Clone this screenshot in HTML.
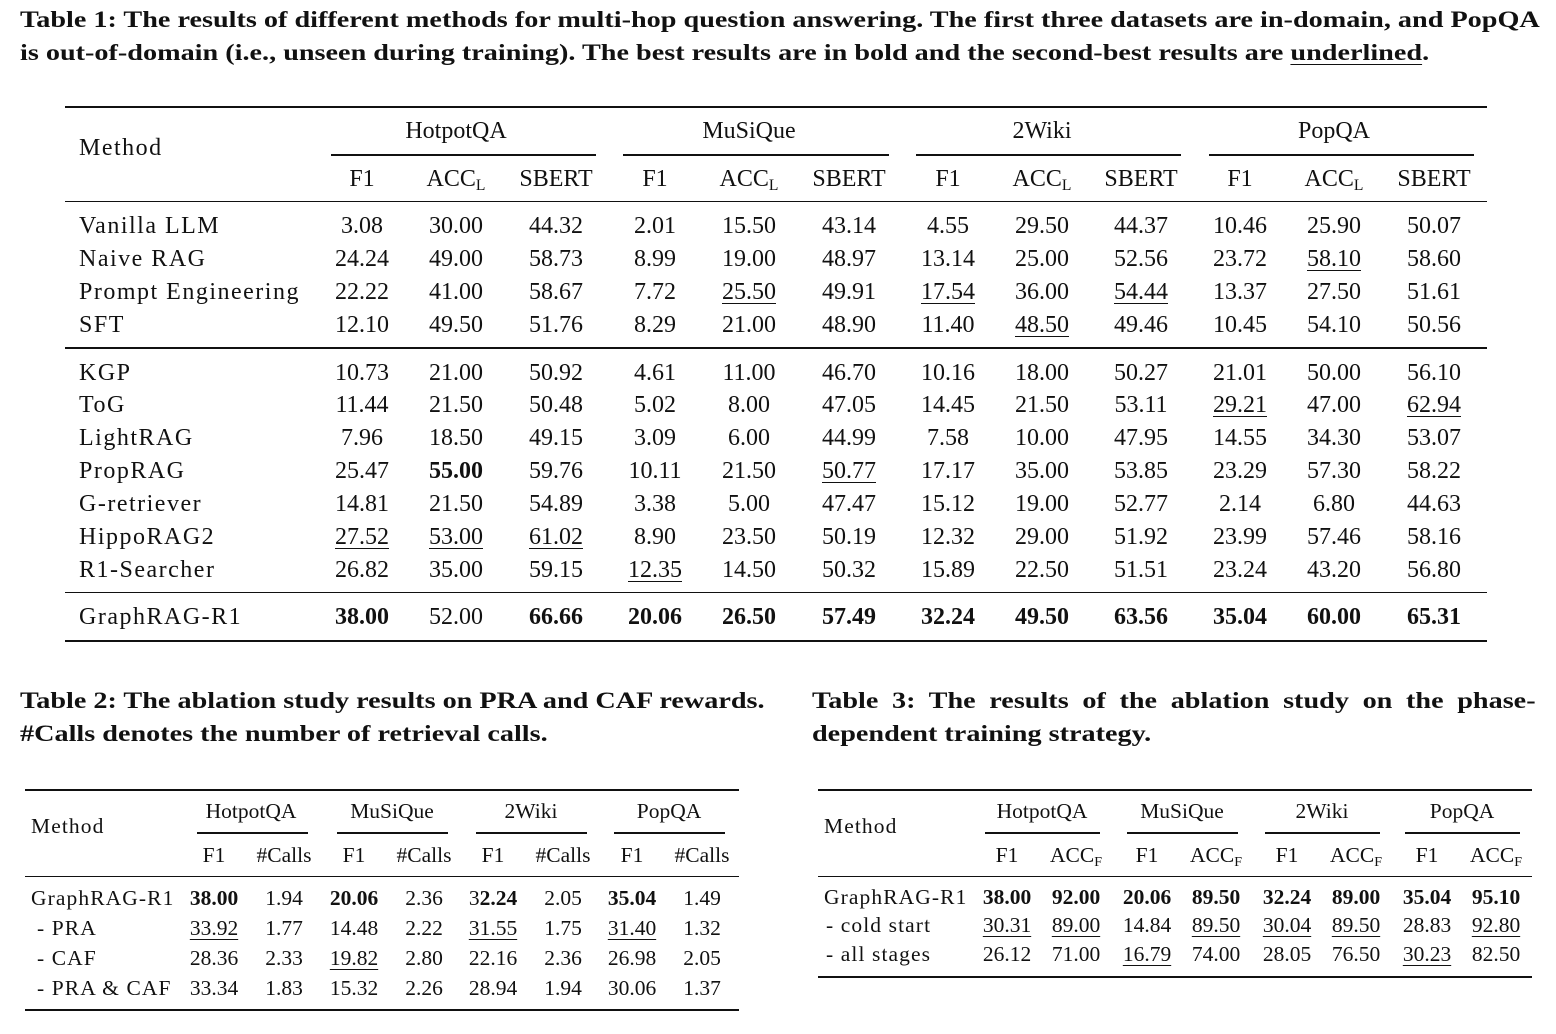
<!DOCTYPE html>
<html><head><meta charset="utf-8"><style>
body{margin:0;width:1556px;height:1034px;background:#fff;position:relative;font-family:"Liberation Serif",serif;color:#111;overflow:hidden}
.cap{position:absolute;font-weight:bold;font-size:23.5px;line-height:33px;white-space:nowrap;transform:scaleX(1.2);transform-origin:0 0}
.r{position:absolute;background:#111}
.row{position:absolute;left:0;width:1556px;height:28px;line-height:28px}
.row span{position:absolute;transform:translateX(-50%)}
.row span.m{transform:none;letter-spacing:1.1px}
.t1{font-size:24px}
.t1 span.m{letter-spacing:1.5px}
.t2{font-size:21.5px}
u{text-underline-offset:4px;text-decoration-thickness:1px}
b{font-weight:bold}
.c1{left:362px}.c2{left:456px}.c3{left:556px}.c4{left:655px}.c5{left:749px}.c6{left:849px}.c7{left:948px}.c8{left:1042px}.c9{left:1141px}.c10{left:1240px}.c11{left:1334px}.c12{left:1434px}
.d1{left:214px}.d2{left:284px}.d3{left:354px}.d4{left:424px}.d5{left:493px}.d6{left:563px}.d7{left:632px}.d8{left:702px}
.e1{left:1007px}.e2{left:1076px}.e3{left:1147px}.e4{left:1216px}.e5{left:1287px}.e6{left:1356px}.e7{left:1427px}.e8{left:1496px}
sub{font-size:65%;vertical-align:-4px;line-height:0}
</style></head><body>
<div class="cap" style="left:20px;top:4px">Table 1: The results of different methods for multi-hop question answering. The first three datasets are in-domain, and PopQA</div>
<div class="cap" style="left:20px;top:37px">is out-of-domain (i.e., unseen during training). The best results are in bold and the second-best results are <u>underlined</u>.</div>

<div class="r" style="left:65px;top:106px;width:1422px;height:2px"></div>
<div class="row t1" style="top:134px"><span class="m" style="left:79px">Method</span></div>
<div class="row t1" style="top:117px"><span class="c2">HotpotQA</span><span class="c5">MuSiQue</span><span class="c8">2Wiki</span><span class="c11">PopQA</span></div>
<div class="r" style="left:331px;top:154px;width:265px;height:2px"></div>
<div class="r" style="left:623px;top:154px;width:266px;height:2px"></div>
<div class="r" style="left:916px;top:154px;width:265px;height:2px"></div>
<div class="r" style="left:1209px;top:154px;width:265px;height:2px"></div>
<div class="row t1" style="top:165px"><span class="c1">F1</span><span class="c2">ACC<sub>L</sub></span><span class="c3">SBERT</span><span class="c4">F1</span><span class="c5">ACC<sub>L</sub></span><span class="c6">SBERT</span><span class="c7">F1</span><span class="c8">ACC<sub>L</sub></span><span class="c9">SBERT</span><span class="c10">F1</span><span class="c11">ACC<sub>L</sub></span><span class="c12">SBERT</span></div>
<div class="r" style="left:65px;top:201px;width:1422px;height:1px"></div>

<div class="row t1" style="top:212px"><span class="m" style="left:79px">Vanilla LLM</span><span class="c1">3.08</span><span class="c2">30.00</span><span class="c3">44.32</span><span class="c4">2.01</span><span class="c5">15.50</span><span class="c6">43.14</span><span class="c7">4.55</span><span class="c8">29.50</span><span class="c9">44.37</span><span class="c10">10.46</span><span class="c11">25.90</span><span class="c12">50.07</span></div>
<div class="row t1" style="top:245px"><span class="m" style="left:79px">Naive RAG</span><span class="c1">24.24</span><span class="c2">49.00</span><span class="c3">58.73</span><span class="c4">8.99</span><span class="c5">19.00</span><span class="c6">48.97</span><span class="c7">13.14</span><span class="c8">25.00</span><span class="c9">52.56</span><span class="c10">23.72</span><span class="c11"><u>58.10</u></span><span class="c12">58.60</span></div>
<div class="row t1" style="top:278px"><span class="m" style="left:79px">Prompt Engineering</span><span class="c1">22.22</span><span class="c2">41.00</span><span class="c3">58.67</span><span class="c4">7.72</span><span class="c5"><u>25.50</u></span><span class="c6">49.91</span><span class="c7"><u>17.54</u></span><span class="c8">36.00</span><span class="c9"><u>54.44</u></span><span class="c10">13.37</span><span class="c11">27.50</span><span class="c12">51.61</span></div>
<div class="row t1" style="top:311px"><span class="m" style="left:79px">SFT</span><span class="c1">12.10</span><span class="c2">49.50</span><span class="c3">51.76</span><span class="c4">8.29</span><span class="c5">21.00</span><span class="c6">48.90</span><span class="c7">11.40</span><span class="c8"><u>48.50</u></span><span class="c9">49.46</span><span class="c10">10.45</span><span class="c11">54.10</span><span class="c12">50.56</span></div>
<div class="r" style="left:65px;top:347px;width:1422px;height:2px"></div>
<div class="row t1" style="top:359px"><span class="m" style="left:79px">KGP</span><span class="c1">10.73</span><span class="c2">21.00</span><span class="c3">50.92</span><span class="c4">4.61</span><span class="c5">11.00</span><span class="c6">46.70</span><span class="c7">10.16</span><span class="c8">18.00</span><span class="c9">50.27</span><span class="c10">21.01</span><span class="c11">50.00</span><span class="c12">56.10</span></div>
<div class="row t1" style="top:391px"><span class="m" style="left:79px">ToG</span><span class="c1">11.44</span><span class="c2">21.50</span><span class="c3">50.48</span><span class="c4">5.02</span><span class="c5">8.00</span><span class="c6">47.05</span><span class="c7">14.45</span><span class="c8">21.50</span><span class="c9">53.11</span><span class="c10"><u>29.21</u></span><span class="c11">47.00</span><span class="c12"><u>62.94</u></span></div>
<div class="row t1" style="top:424px"><span class="m" style="left:79px">LightRAG</span><span class="c1">7.96</span><span class="c2">18.50</span><span class="c3">49.15</span><span class="c4">3.09</span><span class="c5">6.00</span><span class="c6">44.99</span><span class="c7">7.58</span><span class="c8">10.00</span><span class="c9">47.95</span><span class="c10">14.55</span><span class="c11">34.30</span><span class="c12">53.07</span></div>
<div class="row t1" style="top:457px"><span class="m" style="left:79px">PropRAG</span><span class="c1">25.47</span><span class="c2"><b>55.00</b></span><span class="c3">59.76</span><span class="c4">10.11</span><span class="c5">21.50</span><span class="c6"><u>50.77</u></span><span class="c7">17.17</span><span class="c8">35.00</span><span class="c9">53.85</span><span class="c10">23.29</span><span class="c11">57.30</span><span class="c12">58.22</span></div>
<div class="row t1" style="top:490px"><span class="m" style="left:79px">G-retriever</span><span class="c1">14.81</span><span class="c2">21.50</span><span class="c3">54.89</span><span class="c4">3.38</span><span class="c5">5.00</span><span class="c6">47.47</span><span class="c7">15.12</span><span class="c8">19.00</span><span class="c9">52.77</span><span class="c10">2.14</span><span class="c11">6.80</span><span class="c12">44.63</span></div>
<div class="row t1" style="top:523px"><span class="m" style="left:79px">HippoRAG2</span><span class="c1"><u>27.52</u></span><span class="c2"><u>53.00</u></span><span class="c3"><u>61.02</u></span><span class="c4">8.90</span><span class="c5">23.50</span><span class="c6">50.19</span><span class="c7">12.32</span><span class="c8">29.00</span><span class="c9">51.92</span><span class="c10">23.99</span><span class="c11">57.46</span><span class="c12">58.16</span></div>
<div class="row t1" style="top:556px"><span class="m" style="left:79px">R1-Searcher</span><span class="c1">26.82</span><span class="c2">35.00</span><span class="c3">59.15</span><span class="c4"><u>12.35</u></span><span class="c5">14.50</span><span class="c6">50.32</span><span class="c7">15.89</span><span class="c8">22.50</span><span class="c9">51.51</span><span class="c10">23.24</span><span class="c11">43.20</span><span class="c12">56.80</span></div>
<div class="r" style="left:65px;top:592px;width:1422px;height:1px"></div>
<div class="row t1" style="top:603px"><span class="m" style="left:79px">GraphRAG-R1</span><span class="c1"><b>38.00</b></span><span class="c2">52.00</span><span class="c3"><b>66.66</b></span><span class="c4"><b>20.06</b></span><span class="c5"><b>26.50</b></span><span class="c6"><b>57.49</b></span><span class="c7"><b>32.24</b></span><span class="c8"><b>49.50</b></span><span class="c9"><b>63.56</b></span><span class="c10"><b>35.04</b></span><span class="c11"><b>60.00</b></span><span class="c12"><b>65.31</b></span></div>
<div class="r" style="left:65px;top:640px;width:1422px;height:2px"></div>

<div class="cap" style="left:20px;top:685px">Table 2: The ablation study results on PRA and CAF rewards.</div>
<div class="cap" style="left:20px;top:718px">#Calls denotes the number of retrieval calls.</div>
<div class="cap" style="left:812px;top:685px;width:603px;text-align:justify;text-align-last:justify">Table 3: The results of the ablation study on the phase-</div>
<div class="cap" style="left:812px;top:718px">dependent training strategy.</div>

<div class="r" style="left:25px;top:789px;width:714px;height:2px"></div>
<div class="row t2" style="top:797px"><span style="left:251px">HotpotQA</span><span style="left:392px">MuSiQue</span><span style="left:531px">2Wiki</span><span style="left:669px">PopQA</span></div>
<div class="row t2" style="top:812px"><span class="m" style="left:31px">Method</span></div>
<div class="r" style="left:197px;top:832px;width:111px;height:2px"></div>
<div class="r" style="left:337px;top:832px;width:111px;height:2px"></div>
<div class="r" style="left:476px;top:832px;width:111px;height:2px"></div>
<div class="r" style="left:614px;top:832px;width:111px;height:2px"></div>
<div class="row t2" style="top:841px"><span class="d1">F1</span><span class="d2">#Calls</span><span class="d3">F1</span><span class="d4">#Calls</span><span class="d5">F1</span><span class="d6">#Calls</span><span class="d7">F1</span><span class="d8">#Calls</span></div>
<div class="r" style="left:25px;top:876px;width:714px;height:1px"></div>
<div class="row t2" style="top:884px"><span class="m" style="left:31px">GraphRAG-R1</span><span class="d1"><b>38.00</b></span><span class="d2">1.94</span><span class="d3"><b>20.06</b></span><span class="d4">2.36</span><span class="d5">3<b>2.24</b></span><span class="d6">2.05</span><span class="d7"><b>35.04</b></span><span class="d8">1.49</span></div>
<div class="row t2" style="top:914px"><span class="m" style="left:37px">- PRA</span><span class="d1"><u>33.92</u></span><span class="d2">1.77</span><span class="d3">14.48</span><span class="d4">2.22</span><span class="d5"><u>31.55</u></span><span class="d6">1.75</span><span class="d7"><u>31.40</u></span><span class="d8">1.32</span></div>
<div class="row t2" style="top:944px"><span class="m" style="left:37px">- CAF</span><span class="d1">28.36</span><span class="d2">2.33</span><span class="d3"><u>19.82</u></span><span class="d4">2.80</span><span class="d5">22.16</span><span class="d6">2.36</span><span class="d7">26.98</span><span class="d8">2.05</span></div>
<div class="row t2" style="top:974px"><span class="m" style="left:37px">- PRA &amp; CAF</span><span class="d1">33.34</span><span class="d2">1.83</span><span class="d3">15.32</span><span class="d4">2.26</span><span class="d5">28.94</span><span class="d6">1.94</span><span class="d7">30.06</span><span class="d8">1.37</span></div>
<div class="r" style="left:25px;top:1009px;width:714px;height:2px"></div>

<div class="r" style="left:818px;top:789px;width:714px;height:2px"></div>
<div class="row t2" style="top:797px"><span style="left:1042px">HotpotQA</span><span style="left:1182px">MuSiQue</span><span style="left:1322px">2Wiki</span><span style="left:1462px">PopQA</span></div>
<div class="row t2" style="top:812px"><span class="m" style="left:824px">Method</span></div>
<div class="r" style="left:985px;top:832px;width:115px;height:2px"></div>
<div class="r" style="left:1127px;top:832px;width:111px;height:2px"></div>
<div class="r" style="left:1265px;top:832px;width:115px;height:2px"></div>
<div class="r" style="left:1405px;top:832px;width:115px;height:2px"></div>
<div class="row t2" style="top:841px"><span class="e1">F1</span><span class="e2">ACC<sub>F</sub></span><span class="e3">F1</span><span class="e4">ACC<sub>F</sub></span><span class="e5">F1</span><span class="e6">ACC<sub>F</sub></span><span class="e7">F1</span><span class="e8">ACC<sub>F</sub></span></div>
<div class="r" style="left:818px;top:876px;width:714px;height:1px"></div>
<div class="row t2" style="top:883px"><span class="m" style="left:824px">GraphRAG-R1</span><span class="e1"><b>38.00</b></span><span class="e2"><b>92.00</b></span><span class="e3"><b>20.06</b></span><span class="e4"><b>89.50</b></span><span class="e5"><b>32.24</b></span><span class="e6"><b>89.00</b></span><span class="e7"><b>35.04</b></span><span class="e8"><b>95.10</b></span></div>
<div class="row t2" style="top:911px"><span class="m" style="left:826px">- cold start</span><span class="e1"><u>30.31</u></span><span class="e2"><u>89.00</u></span><span class="e3">14.84</span><span class="e4"><u>89.50</u></span><span class="e5"><u>30.04</u></span><span class="e6"><u>89.50</u></span><span class="e7">28.83</span><span class="e8"><u>92.80</u></span></div>
<div class="row t2" style="top:940px"><span class="m" style="left:826px">- all stages</span><span class="e1">26.12</span><span class="e2">71.00</span><span class="e3"><u>16.79</u></span><span class="e4">74.00</span><span class="e5">28.05</span><span class="e6">76.50</span><span class="e7"><u>30.23</u></span><span class="e8">82.50</span></div>
<div class="r" style="left:818px;top:976px;width:714px;height:2px"></div>
</body></html>
